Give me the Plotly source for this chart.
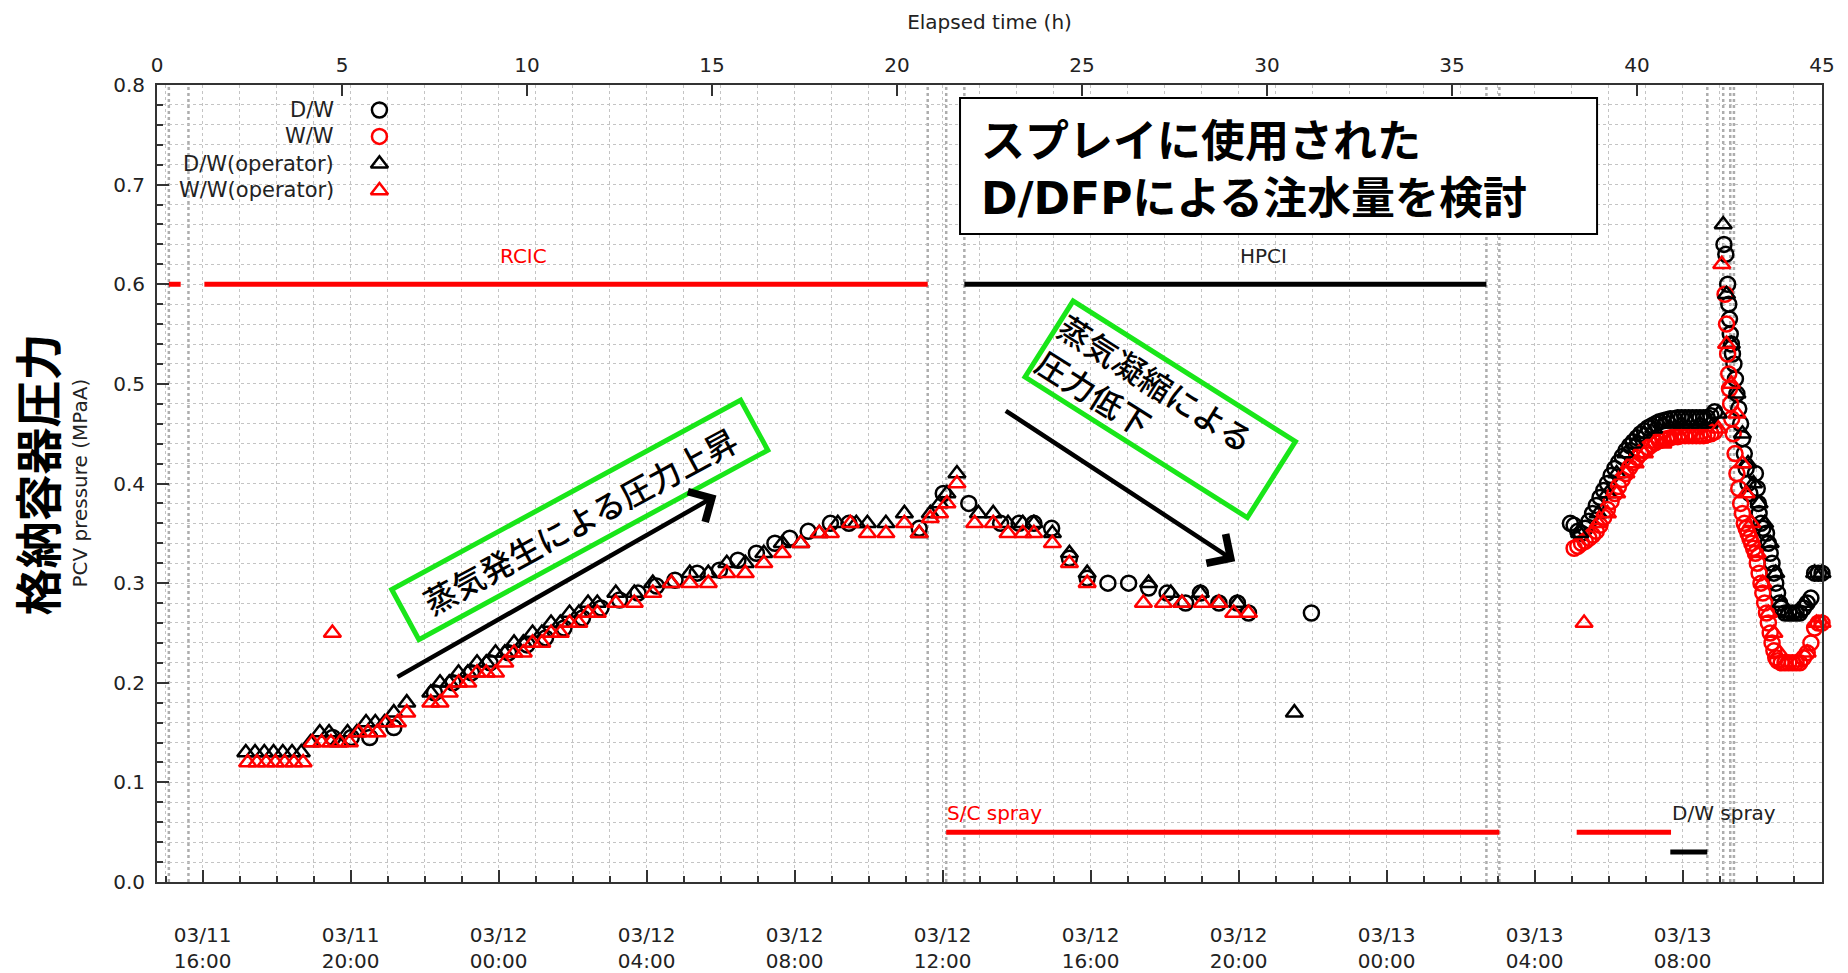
import plotly.graph_objects as go

# Elapsed time in hours from 2011-03-11 14:46 (scram); pressures in MPa abs.

# D/W pressure, operator readings (black triangles)
dw_op_t = [2.40, 2.65, 2.90, 3.15, 3.40, 3.65, 3.90, 4.15, 4.40, 4.65, 4.90, 5.15, 5.40, 5.65,
           5.90, 6.15, 6.40, 6.75,
           7.40, 7.65, 7.90, 8.15, 8.40, 8.65, 8.90, 9.15, 9.40, 9.65, 9.90, 10.15, 10.40, 10.65,
           10.90, 11.15, 11.40, 11.65, 11.90, 12.40, 12.90, 13.40, 13.90, 14.40, 14.90, 15.40,
           15.90, 16.40, 16.90, 17.40, 17.90, 18.40, 18.90, 19.20, 19.70, 20.20, 20.60, 20.90,
           21.15, 21.35, 21.62, 22.20, 22.60, 23.00, 23.40, 23.70, 24.20, 24.66, 25.14, 26.80,
           27.40, 27.70, 28.20, 28.70, 29.20, 30.74,
           38.45, 38.95, 39.20, 39.45, 39.70, 39.95, 40.20, 40.45, 40.70, 40.95, 41.20, 41.45,
           41.70, 41.95, 42.20, 42.33, 42.42, 42.55, 42.70, 42.85, 43.00, 43.15, 43.30, 43.45,
           43.60, 43.75, 43.90, 44.05, 44.30, 44.55, 44.80, 45.00]
dw_op_p = [0.13, 0.13, 0.13, 0.13, 0.13, 0.13, 0.13, 0.14, 0.15, 0.15, 0.14, 0.15, 0.15, 0.16,
           0.16, 0.16, 0.17, 0.18,
           0.19, 0.20, 0.20, 0.21, 0.21, 0.22, 0.22, 0.23, 0.23, 0.24, 0.24, 0.25, 0.25, 0.26,
           0.26, 0.27, 0.27, 0.28, 0.28, 0.29, 0.29, 0.30, 0.30, 0.31, 0.31, 0.32,
           0.32, 0.33, 0.34, 0.34, 0.35, 0.36, 0.36, 0.36, 0.36, 0.37, 0.35, 0.37,
           0.38, 0.39, 0.41, 0.37, 0.37, 0.36, 0.36, 0.36, 0.35, 0.33, 0.31, 0.30,
           0.29, 0.28, 0.29, 0.28, 0.28, 0.17,
           0.35, 0.37, 0.39, 0.41, 0.43, 0.44, 0.45, 0.455, 0.46, 0.46, 0.46, 0.46,
           0.46, 0.46, 0.47, 0.66, 0.59, 0.54, 0.49, 0.45, 0.42, 0.40, 0.38, 0.36,
           0.34, 0.31, 0.28, 0.27, 0.27, 0.28, 0.31, 0.31]

# W/W pressure, operator readings (red triangles)
ww_op_t = [2.45, 2.70, 2.95, 3.20, 3.45, 3.70, 3.95, 4.20, 4.45, 4.70, 4.74, 4.95, 5.20, 5.45,
           5.70, 5.95, 6.20, 6.50, 6.75,
           7.40, 7.65, 7.90, 8.15, 8.40, 8.65, 8.90, 9.15, 9.40, 9.65, 9.90, 10.15, 10.40, 10.65,
           10.90, 11.15, 11.40, 11.65, 11.90, 12.40, 12.90, 13.40, 13.90, 14.40, 14.90, 15.40,
           15.90, 16.40, 16.90, 17.40, 17.90, 18.20, 18.74, 19.20, 19.70, 20.20, 20.60, 20.90,
           21.15, 21.35, 21.62, 22.10, 22.60, 23.00, 23.40, 23.70, 24.20, 24.66, 25.14, 26.66,
           27.20, 27.70, 28.25, 28.70, 29.10, 29.50,
           38.57, 38.95, 39.20, 39.45, 39.70, 39.95, 40.20, 40.45, 40.70, 40.95, 41.20, 41.45,
           41.70, 42.20, 42.29, 42.42, 42.55, 42.70, 42.85, 42.95, 43.10, 43.25, 43.40, 43.55,
           43.70, 43.85, 44.00, 44.30, 44.60, 44.85, 45.00]
ww_op_p = [0.12, 0.12, 0.12, 0.12, 0.12, 0.12, 0.12, 0.14, 0.14, 0.14, 0.25, 0.14, 0.14, 0.15,
           0.15, 0.15, 0.16, 0.16, 0.17,
           0.18, 0.18, 0.19, 0.20, 0.20, 0.21, 0.21, 0.21, 0.22, 0.23, 0.23, 0.24, 0.24, 0.25,
           0.25, 0.26, 0.26, 0.27, 0.27, 0.28, 0.28, 0.29, 0.30, 0.30, 0.30, 0.31,
           0.31, 0.32, 0.33, 0.34, 0.35, 0.35, 0.36, 0.35, 0.35, 0.36, 0.35, 0.365,
           0.37, 0.38, 0.40, 0.36, 0.36, 0.35, 0.35, 0.35, 0.34, 0.32, 0.30, 0.28,
           0.28, 0.28, 0.28, 0.28, 0.27, 0.27,
           0.26, 0.36, 0.37, 0.39, 0.41, 0.42, 0.43, 0.44, 0.44, 0.445, 0.445, 0.445,
           0.445, 0.455, 0.62, 0.54, 0.50, 0.47, 0.42, 0.39, 0.36, 0.33, 0.30, 0.27,
           0.25, 0.23, 0.22, 0.22, 0.23, 0.26, 0.26]

# D/W pressure, recorded (black circles)
dw_t = [4.75, 5.25, 5.75, 6.40,
        7.50, 8.00, 8.50, 9.00, 9.50, 10.00, 10.50, 11.00, 11.50, 12.00, 12.50, 13.00, 13.50,
        14.00, 14.60, 15.20, 15.70, 16.20, 16.70, 17.10, 17.60, 18.20, 18.70, 20.60, 21.25,
        21.94, 22.80, 23.30, 23.70, 24.18, 24.66, 25.14, 25.70, 26.26, 26.80, 27.30, 27.80,
        28.20, 28.70, 29.20, 29.50, 31.20,
        38.20, 38.30, 38.40, 38.50, 38.60, 38.70, 38.80, 38.90, 39.00, 39.10, 39.20, 39.30,
        39.40, 39.50, 39.60, 39.70, 39.80, 39.90, 40.00, 40.10, 40.20, 40.30, 40.40, 40.50,
        40.60, 40.70, 40.80, 40.90, 41.00, 41.10, 41.20, 41.30, 41.40, 41.50, 41.60, 41.70,
        41.80, 41.90, 42.00, 42.10,
        42.35, 42.40, 42.45, 42.48, 42.50, 42.52, 42.55, 42.58, 42.62, 42.66, 42.70, 42.75,
        42.80, 42.85, 42.90, 42.95, 43.00, 43.05, 43.20, 43.25, 43.28, 43.30, 43.35, 43.40,
        43.50, 43.55, 43.60, 43.65, 43.70, 43.75, 43.80, 43.85, 43.90, 44.00, 44.10, 44.20,
        44.30, 44.40, 44.50, 44.60, 44.70, 44.80, 44.90, 45.00]
dw_p = [0.145, 0.145, 0.145, 0.155,
        0.190, 0.200, 0.210, 0.220, 0.230, 0.238, 0.245, 0.255, 0.265, 0.275, 0.283, 0.290, 0.297,
        0.303, 0.310, 0.313, 0.323, 0.330, 0.340, 0.345, 0.352, 0.360, 0.360, 0.355, 0.390,
        0.380, 0.360, 0.360, 0.360, 0.355, 0.325, 0.305, 0.300, 0.300, 0.295, 0.290, 0.280,
        0.290, 0.280, 0.280, 0.270, 0.270,
        0.360, 0.358, 0.352, 0.350, 0.355, 0.362, 0.370, 0.378, 0.386, 0.393, 0.400, 0.408,
        0.415, 0.421, 0.427, 0.433, 0.438, 0.442, 0.446, 0.450, 0.453, 0.456, 0.458, 0.460,
        0.462, 0.463, 0.464, 0.465, 0.465, 0.466, 0.466, 0.466, 0.466, 0.466, 0.466, 0.466,
        0.466, 0.466, 0.468, 0.472,
        0.640, 0.630, 0.600, 0.580, 0.565, 0.550, 0.540, 0.530, 0.520, 0.505, 0.490, 0.475,
        0.460, 0.445, 0.430, 0.415, 0.400, 0.390, 0.410, 0.395, 0.380, 0.370, 0.360, 0.355,
        0.350, 0.340, 0.330, 0.320, 0.310, 0.300, 0.290, 0.280, 0.275, 0.270, 0.270, 0.270,
        0.270, 0.270, 0.275, 0.280, 0.285, 0.310, 0.310, 0.310]

# W/W pressure, recorded (red circles)
ww_t = [38.30, 38.40, 38.50, 38.60, 38.70, 38.80, 38.90, 39.00, 39.10, 39.20, 39.30, 39.40,
        39.50, 39.60, 39.70, 39.80, 39.90, 40.00, 40.10, 40.20, 40.30, 40.40, 40.50, 40.60,
        40.70, 40.80, 40.90, 41.00, 41.10, 41.20, 41.30, 41.40, 41.50, 41.60, 41.70, 41.80,
        41.90, 42.00, 42.10,
        42.38, 42.42, 42.45, 42.48, 42.50, 42.53, 42.56, 42.60, 42.65, 42.70, 42.75, 42.80,
        42.85, 42.90, 42.95, 43.00, 43.05, 43.10, 43.15, 43.20, 43.25, 43.30, 43.35, 43.40,
        43.45, 43.50, 43.55, 43.60, 43.65, 43.70, 43.75, 43.80, 43.90, 44.00, 44.10, 44.20,
        44.30, 44.40, 44.50, 44.60, 44.70, 44.80, 44.90, 45.00]
ww_p = [0.335, 0.337, 0.340, 0.342, 0.345, 0.348, 0.352, 0.358, 0.366, 0.374, 0.382, 0.390,
        0.397, 0.404, 0.410, 0.416, 0.421, 0.426, 0.430, 0.433, 0.436, 0.439, 0.441, 0.443,
        0.444, 0.445, 0.446, 0.447, 0.447, 0.448, 0.448, 0.448, 0.448, 0.448, 0.448, 0.448,
        0.449, 0.450, 0.452,
        0.590, 0.560, 0.530, 0.510, 0.495, 0.480, 0.465, 0.450, 0.430, 0.410, 0.395, 0.380,
        0.370, 0.360, 0.355, 0.350, 0.345, 0.340, 0.335, 0.330, 0.320, 0.310, 0.300, 0.290,
        0.280, 0.270, 0.260, 0.250, 0.240, 0.232, 0.225, 0.222, 0.220, 0.220, 0.220, 0.220,
        0.220, 0.220, 0.225, 0.230, 0.240, 0.255, 0.260, 0.260]

# System operation periods: (start h, end h)
rcic_periods = [(0.32, 0.64), (1.28, 20.83)]
hpci_periods = [(21.82, 35.93)]
sc_spray_periods = [(21.33, 36.28), (38.37, 40.92)]
dw_spray_periods = [(40.90, 41.90)]
rcic_level = 0.60
hpci_level = 0.60
sc_spray_level = 0.05
dw_spray_level = 0.03

# Event times drawn as vertical dashed lines
event_hours = [0.32, 0.85, 20.83, 21.33, 21.82, 35.93, 36.28, 41.90, 42.33, 42.52, 42.62]

# Bottom clock axis (4-hourly) and top elapsed-hour axis
clock_tick_hours = [1.233, 5.233, 9.233, 13.233, 17.233, 21.233, 25.233, 29.233, 33.233,
                    37.233, 41.233]
clock_tick_text = ["03/11<br>16:00", "03/11<br>20:00", "03/12<br>00:00", "03/12<br>04:00",
                   "03/12<br>08:00", "03/12<br>12:00", "03/12<br>16:00", "03/12<br>20:00",
                   "03/13<br>00:00", "03/13<br>04:00", "03/13<br>08:00"]

legend_names = ["D/W", "W/W", "D/W(operator)", "W/W(operator)"]
legend_symbols = ["circle-open", "circle-open", "triangle-up-open", "triangle-up-open"]
legend_colors = ["black", "red", "black", "red"]

TXT = "#222222"
BASE_FONT = "DejaVu Sans"
JP_FONT = "Noto Sans CJK JP"
GRID = "#c4c4c4"
X_RANGE = [0, 45]
Y_RANGE = [0, 0.8]

fig = go.Figure()

# Operation bars on the top (elapsed-hour) axis
def add_periods(periods, level, color):
    xs, ys = [], []
    for a, b in periods:
        xs += [a, b, None]
        ys += [level, level, None]
    fig.add_trace(go.Scatter(x=xs, y=ys, mode="lines", xaxis="x2", yaxis="y",
                             line=dict(color=color, width=5), hoverinfo="skip",
                             showlegend=False))

add_periods(rcic_periods, rcic_level, "#ff0000")
add_periods(hpci_periods, hpci_level, "#000000")
add_periods(sc_spray_periods, sc_spray_level, "#ff0000")
add_periods(dw_spray_periods, dw_spray_level, "#000000")

marker_size = 15
marker_lw = 2.5

def add_points(t, p, symbol, color):
    fig.add_trace(go.Scatter(x=t, y=p, mode="markers", xaxis="x", yaxis="y",
                             cliponaxis=False, showlegend=False,
                             marker=dict(symbol=symbol, size=marker_size, color=color,
                                         line=dict(color=color, width=marker_lw))))

add_points(dw_t, dw_p, "circle-open", "#000000")
add_points(ww_t, ww_p, "circle-open", "#ff0000")
add_points(dw_op_t, dw_op_p, "triangle-up-open", "#000000")
add_points(ww_op_t, ww_op_p, "triangle-up-open", "#ff0000")

# Legend drawn inside the plot: label on the left, symbol on the right
leg_y = [0.9686, 0.9355, 0.9011, 0.8677]
leg_sym_x = 0.1336
leg_txt_x = 0.1076
for name, sym, col, yy in zip(legend_names, legend_symbols, legend_colors, leg_y):
    fig.add_trace(go.Scatter(x=[leg_sym_x], y=[yy], mode="markers", xaxis="x3", yaxis="y3",
                             showlegend=False, hoverinfo="skip",
                             marker=dict(symbol=sym, size=marker_size, color=col,
                                         line=dict(color=col, width=marker_lw))))

shapes = []
for h in event_hours:
    shapes.append(dict(type="line", xref="x", yref="paper", x0=h, x1=h, y0=0, y1=1,
                       line=dict(color="#adadad", width=2.5, dash="3px,3px"), layer="below"))

# Headline frame
shapes.append(dict(type="rect", xref="paper", yref="paper", x0=0.4823, x1=0.8649,
                   y0=0.8131, y1=0.9837, line=dict(color="#000000", width=2),
                   fillcolor="#ffffff", layer="above"))

annotations = []
for name, yy in zip(legend_names, leg_y):
    annotations.append(dict(xref="paper", yref="paper", x=leg_txt_x, y=yy, text=name,
                            showarrow=False, xanchor="right", yanchor="middle",
                            font=dict(family=BASE_FONT, size=21, color=TXT)))

# Bar labels
annotations += [
    dict(xref="x2", yref="y", x=9.9, y=0.628, text="RCIC", showarrow=False,
         font=dict(family=BASE_FONT, size=20, color="#ff0000")),
    dict(xref="x2", yref="y", x=29.9, y=0.628, text="HPCI", showarrow=False,
         font=dict(family=BASE_FONT, size=20, color=TXT)),
    dict(xref="x2", yref="y", x=21.3, y=0.069, text="S/C spray", showarrow=False,
         xanchor="left", font=dict(family=BASE_FONT, size=20, color="#ff0000")),
    dict(xref="x2", yref="y", x=40.9, y=0.069, text="D/W spray", showarrow=False,
         xanchor="left", font=dict(family=BASE_FONT, size=20, color=TXT)),
]

# Y axis titles
annotations += [
    dict(xref="paper", yref="paper", x=-0.0468, y=0.5, text="PCV pressure (MPaA)",
         textangle=-90, showarrow=False, xanchor="center", yanchor="middle",
         font=dict(family=BASE_FONT, size=20, color=TXT)),
    dict(xref="paper", yref="paper", x=-0.0730, y=0.512, text="<b>格納容器圧力</b>",
         textangle=-90, showarrow=False, xanchor="center", yanchor="middle",
         font=dict(family=JP_FONT, size=47, color="#000000")),
]

# Headline text
annotations.append(dict(
    xref="paper", yref="paper", x=0.4935, y=0.8975, xanchor="left", yanchor="middle",
    text=("<b>スプレイに使用された<br>"
          "<span style=\"font-family:'DejaVu Sans'\">D/DFP</span>による注水量を検討</b>"),
    showarrow=False, align="left",
    font=dict(family=JP_FONT, size=44, color="#000000")))

# Green callouts
GREEN = "#19e619"
annotations += [
    dict(xref="x", yref="y", x=11.42, y=0.363, text="蒸気発生による圧力上昇",
         showarrow=False, textangle=-28.5, width=392, height=52, borderpad=0,
         borderwidth=5, bordercolor=GREEN, bgcolor="rgba(255,255,255,0)",
         font=dict(family=JP_FONT, size=32, color="#000000", weight=500)),
    dict(xref="x", yref="y", x=27.12, y=0.474, text="蒸気凝縮による<br>圧力低下",
         showarrow=False, textangle=32.3, width=258, height=85, borderpad=0, align="left",
         borderwidth=5, bordercolor=GREEN, bgcolor="rgba(255,255,255,0)",
         font=dict(family=JP_FONT, size=32, color="#000000", weight=500)),
]

# Trend arrows
for (x0, y0, x1, y1) in [(6.46, 0.205, 15.12, 0.388), (22.9, 0.474, 29.14, 0.322)]:
    annotations.append(dict(xref="x", yref="y", axref="x", ayref="y", x=x1, y=y1, ax=x0, ay=y0,
                            text="", showarrow=True, arrowhead=4, arrowsize=1.5,
                            arrowwidth=4.5, arrowcolor="#000000", standoff=0))

tick_font = dict(family=BASE_FONT, size=20, color=TXT)

fig.update_layout(
    width=1848, height=973,
    margin=dict(l=157, r=26, t=85, b=91, autoexpand=False),
    paper_bgcolor="#ffffff", plot_bgcolor="#ffffff",
    font=dict(family=BASE_FONT, size=20, color=TXT),
    showlegend=False,
    shapes=shapes,
    annotations=annotations,
    xaxis=dict(
        range=X_RANGE, side="bottom", showline=True, linecolor="#333333", linewidth=2,
        automargin=False,
        tickmode="array", tickvals=clock_tick_hours, ticktext=clock_tick_text,
        ticks="inside", ticklen=12, tickwidth=1.5, tickcolor="#333333",
        tickfont=tick_font, ticklabelstandoff=34,
        showgrid=True, gridcolor=GRID, gridwidth=1, griddash="dot",
        minor=dict(tickmode="linear", tick0=0.233, dtick=1, ticks="inside", ticklen=6,
                   tickwidth=1.5, tickcolor="#333333", showgrid=True, gridcolor=GRID,
                   gridwidth=1, griddash="dot"),
        zeroline=False, fixedrange=True,
    ),
    xaxis2=dict(
        range=X_RANGE, overlaying="x", side="top", showline=True, linecolor="#333333",
        linewidth=2, automargin=False, tickmode="linear", tick0=0, dtick=5, ticks="inside",
        ticklen=11, tickwidth=1.5, tickcolor="#333333", tickfont=tick_font,
        ticklabelstandoff=3, showgrid=False, zeroline=False,
        title=dict(text="Elapsed time (h)", font=dict(family=BASE_FONT, size=20, color=TXT),
                   standoff=18),
    ),
    xaxis3=dict(range=[0, 1], overlaying="x", visible=False),
    yaxis=dict(
        range=Y_RANGE, showline=True, linecolor="#333333", linewidth=2, mirror=True,
        automargin=False,
        tickmode="linear", tick0=0, dtick=0.1, tickformat=".1f", ticks="inside", ticklen=12,
        tickwidth=1.5, tickcolor="#333333", tickfont=tick_font, ticklabelstandoff=6,
        showgrid=True, gridcolor=GRID, gridwidth=1, griddash="dot",
        minor=dict(tickmode="linear", tick0=0, dtick=0.02, ticks="inside", ticklen=6,
                   tickwidth=1.5, tickcolor="#333333", showgrid=True, gridcolor=GRID,
                   gridwidth=1, griddash="dot"),
        zeroline=False,
    ),
    yaxis3=dict(range=[0, 1], overlaying="y", visible=False),
)

fig.write_html("out.html")
